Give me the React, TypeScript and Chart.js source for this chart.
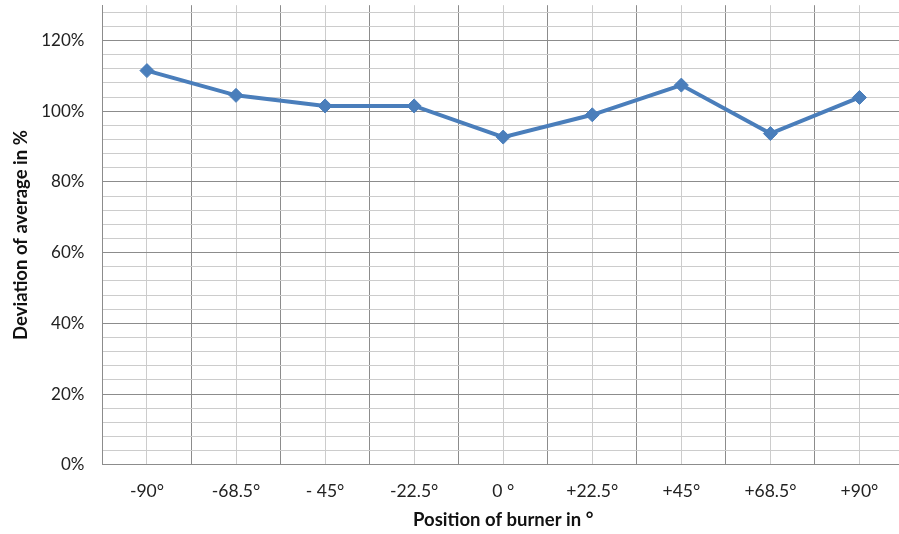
import React, { useEffect, useRef } from "react";
import { Chart, registerables } from "chart.js";

Chart.register(...registerables);

const categories = ["-90°", "-68.5°", "- 45°", "-22.5°", "0 °", "+22.5°", "+45°", "+68.5°", "+90°"];
const deviation = [111.5, 104.5, 101.5, 101.5, 92.7, 99, 107.4, 93.7, 103.9];
const yTicks = [0, 4, 8, 12, 16, 20, 24, 28, 32, 36, 40, 44, 48, 52, 56, 60, 64, 68, 72, 76, 80, 84, 88, 92, 96, 100, 104, 108, 112, 116, 120, 124, 128];
const yMax = 130;
const xTitle = "Position of burner in °";
const yTitle = "Deviation of average in %";

const FONT = "Lato, 'Open Sans', sans-serif";
const DARK = "#8c8c8c";
const LIGHT = "#cccccc";
const BLUE = "#4a7ebb";

export default function App() {
  const ref = useRef<HTMLCanvasElement | null>(null);
  useEffect(() => {
    if (!ref.current) return;
    const chart = new Chart(ref.current, {
      type: "line",
      data: {
        labels: categories,
        datasets: [
          {
            data: deviation,
            borderColor: BLUE,
            backgroundColor: BLUE,
            borderWidth: 4,
            pointStyle: "rectRot",
            pointRadius: 7,
            pointHoverRadius: 7,
            pointBorderWidth: 1,
            tension: 0,
            xAxisID: "x",
          },
        ],
      },
      options: {
        animation: false,
        responsive: true,
        maintainAspectRatio: false,
        layout: { padding: { left: 9, right: 4, top: 0, bottom: 2 } },
        plugins: { legend: { display: false }, tooltip: { enabled: false } },
        scales: {
          x: {
            type: "category",
            offset: true,
            position: "bottom",
            grid: { offset: true, color: DARK, lineWidth: 1, drawTicks: true, tickLength: 16, tickColor: "rgba(0,0,0,0)" },
            border: { color: DARK, width: 1 },
            ticks: { color: "#222", font: { family: FONT, size: 17.5 }, padding: 0, maxRotation: 0, autoSkip: false },
            title: {
              display: true,
              text: xTitle,
              color: "#111",
              font: { family: FONT, size: 18.5, weight: "bold" },
              padding: { top: 7, bottom: 1 },
            },
          },
          x2: {
            type: "category",
            labels: categories,
            offset: true,
            position: "bottom",
            grid: { offset: false, color: LIGHT, lineWidth: 1, drawTicks: false },
            border: { display: false },
            ticks: { display: false },
          },
          y: {
            min: 0,
            max: yMax,
            afterBuildTicks: (scale: any) => {
              scale.ticks = yTicks.map((v) => ({ value: v }));
            },
            grid: {
              color: (ctx: any) => (ctx.tick && ctx.tick.value % 20 === 0 ? DARK : LIGHT),
              lineWidth: 1,
              drawTicks: true,
              tickLength: 18,
              tickColor: "rgba(0,0,0,0)",
            },
            border: { color: DARK, width: 1 },
            ticks: {
              color: "#222",
              font: { family: FONT, size: 17 },
              padding: 0,
              autoSkip: false,
              callback: (v: any) => (Number(v) % 20 === 0 ? `${v}%` : ""),
            },
            title: {
              display: true,
              text: yTitle,
              color: "#111",
              font: { family: FONT, size: 18.5, weight: "bold" },
              padding: { top: 1, bottom: 9 },
            },
          },
        },
      },
    });
    return () => chart.destroy();
  }, []);
  return (
    <div style={{ position: "absolute", left: 0, top: 0, width: 899, height: 534, overflow: "hidden", background: "#fff" }}>
      <div style={{ position: "relative", top: -5, width: 912, height: 539 }}>
        <canvas ref={ref} />
      </div>
    </div>
  );
}
